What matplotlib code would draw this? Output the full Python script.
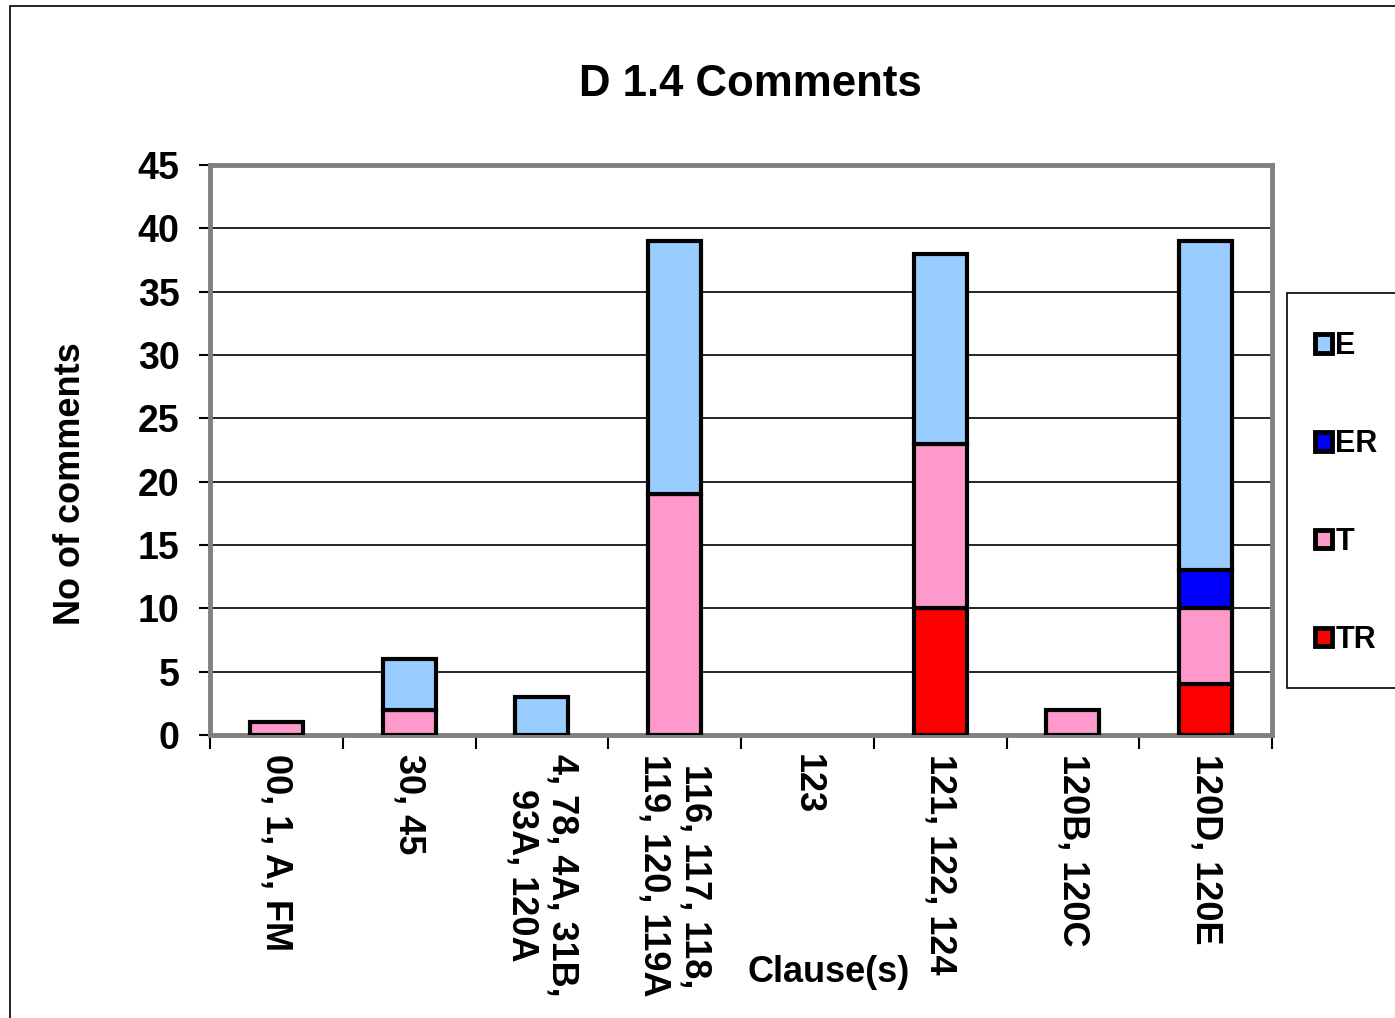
import numpy as np
import matplotlib
matplotlib.use('Agg')
import matplotlib.pyplot as plt
import matplotlib.patches as patches

plt.rcParams['font.family'] = ['Liberation Sans', 'DejaVu Sans']
plt.rcParams['font.weight'] = 'bold'

clauses = ['00, 1, A, FM', '30, 45', '4, 78, 4A, 31B,\n93A, 120A',
           '116, 117, 118,\n119, 120, 119A', '123', '121, 122, 124',
           '120B, 120C', '120D, 120E']
tr = [0, 0, 0, 0, 0, 10, 0, 4]
t = [1, 2, 0, 19, 0, 13, 2, 6]
er = [0, 0, 0, 0, 0, 0, 0, 3]
e = [0, 4, 3, 20, 0, 15, 0, 26]

series = [('TR', tr, '#ff0000'), ('T', t, '#ff99cc'),
          ('ER', er, '#0000ff'), ('E', e, '#99ccff')]

W, H = 1395, 1018
fig = plt.figure(figsize=(W / 100, H / 100), dpi=100)
ax = fig.add_axes([210 / W, 1 - 735 / H, (1272 - 210) / W, (735 - 165) / H])

x = np.arange(len(clauses))
bottom = np.zeros(len(clauses))
handles = {}
for name, vals, col in series:
    vals = np.array(vals, dtype=float)
    m = vals > 0
    ax.bar(x[m], vals[m], 0.4, bottom=bottom[m], color=col,
           edgecolor='black', linewidth=3, zorder=3)
    handles[name] = patches.Patch(facecolor=col, edgecolor='black', linewidth=3.5)
    bottom += vals

ax.set_xlim(-0.5, len(clauses) - 0.5)
ax.set_ylim(0, 45)
ax.set_yticks(range(0, 46, 5))
ax.yaxis.grid(True, color='black', linewidth=1.2, zorder=0)
ax.set_axisbelow(True)
for s in ax.spines.values():
    s.set_color('#808080')
    s.set_linewidth(3.5)

ax.set_xticks(x)
ax.set_xticklabels(clauses, rotation=270, ha='center', va='top',
                   multialignment='center', fontsize=26, fontweight='bold')
ax.set_xticks(np.arange(-0.5, len(clauses)), minor=True)
ax.tick_params(axis='x', which='major', length=0, pad=14)
ax.tick_params(axis='x', which='minor', length=10, width=1.5, color='black')
ax.tick_params(axis='y', length=8, width=1.5, color='black', labelsize=27, pad=14)
for lab in ax.get_yticklabels():
    lab.set_fontweight('bold')

fig.text(71 / W, 1 - 484 / H, 'No of comments', fontsize=26, fontweight='bold',
         rotation=90, ha='center', va='center')
fig.text(829 / W, 1 - 972 / H, 'Clause(s)', fontsize=26, fontweight='bold',
         ha='center', va='center')
fig.text(750 / W, 1 - 85 / H, 'D 1.4 Comments', fontsize=31.5, fontweight='bold',
         ha='center', va='center')

# legend box
fig.patches.append(patches.Rectangle((1287 / W, 1 - 688 / H), 200 / W, (688 - 293) / H,
                                     transform=fig.transFigure, facecolor='white',
                                     edgecolor='black', linewidth=1.2))
fig.legend([handles[k] for k in ['E', 'ER', 'T', 'TR']], ['E', 'ER', 'T', 'TR'],
           loc='upper left', bbox_to_anchor=(1300 / W, 1 - 316 / H),
           frameon=False, fontsize=22, handlelength=0.55, handleheight=0.55,
           handletextpad=0.1, labelspacing=2.22, borderpad=0)

# outer border
fig.patches.append(patches.Rectangle((10 / W, -0.1), 1.2, 1 - 6 / H + 0.1,
                                     transform=fig.transFigure, fill=False,
                                     edgecolor='black', linewidth=1.2))

fig.savefig('out.png', dpi=100)
